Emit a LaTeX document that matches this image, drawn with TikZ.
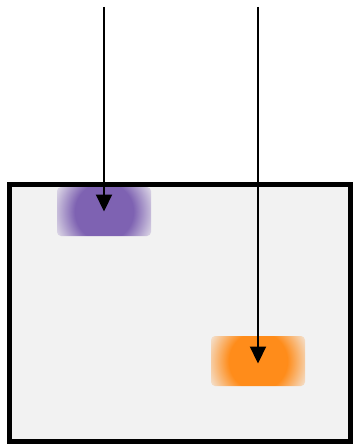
\documentclass[tikz,border=0pt]{standalone}
\usetikzlibrary{arrows.meta,fadings}
\definecolor{boxgray}{HTML}{F2F2F2}
\definecolor{blobpurple}{HTML}{7E62B2}
\definecolor{bloborange}{HTML}{FF8C1A}
\pgfdeclareradialshading{blobshade}{\pgfpointorigin}{color(0bp)=(pgftransparent!0); color(29bp)=(pgftransparent!0); color(57bp)=(pgftransparent!100); color(64bp)=(pgftransparent!100)}
\pgfdeclarefading{blobfade}{\pgfuseshading{blobshade}}
\begin{document}
\begin{tikzpicture}[x=1pt,y=-1pt,
  container/.style={draw=black, line width=5pt, fill=boxgray},
  blob/.style 2 args={fill=#1, rounded corners=4pt, path fading=blobfade, fit fading=false, fading transform={shift={#2}}},
  dropline/.style={draw=black, line width=2.2pt, -{Triangle[length=17pt,width=16pt]}}]
\useasboundingbox (0,0) rectangle (353,444);
\draw[container] (9.5,184.5) rectangle (350.5,441.5);
\fill[blob={blobpurple}{(104,211.5)}] (57,187) rectangle (151,236);
\fill[blob={bloborange}{(258,361)}] (211,336) rectangle (305,386);
\coordinate (pc) at (104,211.5);
\coordinate (oc) at (258,363.5);
\coordinate (ptop) at (104,7);
\coordinate (otop) at (258,7);
\draw[dropline] (ptop) -- (pc);
\draw[dropline] (otop) -- (oc);
\end{tikzpicture}
\end{document}
